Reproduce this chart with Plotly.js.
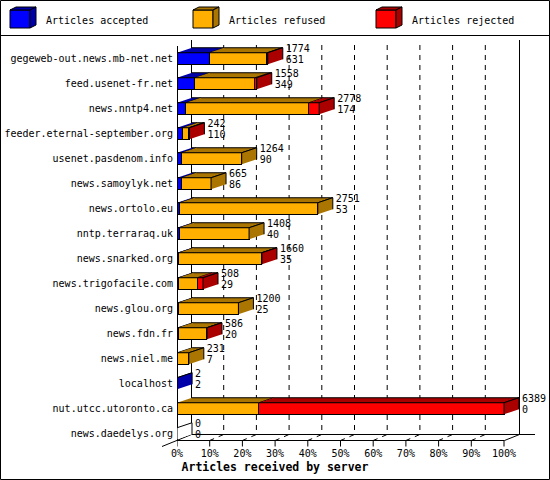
<!DOCTYPE html>
<html><head><meta charset="utf-8">
<script src="https://cdn.plot.ly/plotly-3.0.1.min.js"></script>
<style>html,body{margin:0;padding:0;background:#fff}#chart{width:550px;height:480px}</style>
</head><body><div id="chart"></div>
<script>
// ---------- data ----------
const servers = ["gegeweb-out.news.mb-net.net","feed.usenet-fr.net","news.nntp4.net","feeder.eternal-september.org","usenet.pasdenom.info","news.samoylyk.net","news.ortolo.eu","nntp.terraraq.uk","news.snarked.org","news.trigofacile.com","news.glou.org","news.fdn.fr","news.niel.me","localhost","nut.utcc.utoronto.ca","news.daedelys.org"];
const offered  = [1774,1558,2778,242,1264,665,2751,1408,1660,508,1200,586,231,2,6389,0];
const accepted = [631,349,174,110,90,86,53,40,35,29,25,20,7,2,0,0];
const refused  = [1125,1174,2400,120,1174,579,2698,1368,1615,370,1175,556,224,0,1597,0];
const rejected = [18,35,204,12,0,0,0,0,10,109,0,10,0,0,4792,0];
const xTicks = [0,10,20,30,40,50,60,70,80,90,100];
const xTickLabels = ["0%","10%","20%","30%","40%","50%","60%","70%","80%","90%","100%"];
const seriesNames = ["Articles accepted","Articles refused","Articles rejected"];
const xTitle = "Articles received by server";

// ---------- styling / geometry ----------
const frontColors = ["#0000ff","#ffaf00","#ff0000"];
const shadeColors = ["#0000aa","#aa7500","#aa0000","#ffffff"];
const FONT = "DejaVu Sans Mono";
const W=550,H=480,L=177,R=535,T=40,B=441;
const PXX = 3.27, PXY = 25;
const XMAX = (R-L)/PXX;
const YLO = -0.3, YHI = YLO + (B-T)/PXY;
const DX = 15/PXX, DY = 5/PXY;      // bar depth
const FDX = 14/PXX, FDY = 6/PXY;    // frame depth
const HALF = 0.23;
const LABEL_GAP = 3/PXX;
const px = x => (x-L)/(R-L);
const py = y => (B-y)/(B-T);

const n = servers.length;
const maxOff = Math.max(...offered);
const yPos = servers.map((s,i)=>n-1-i);
const pct = a => a.map(v => v/maxOff*100);
const segs = [pct(accepted), pct(refused), pct(rejected)];

const traces = [];
// front faces
for (let s=0;s<3;s++){
  traces.push({type:'bar',orientation:'h',y:yPos,x:segs[s],width:HALF*2,name:seriesNames[s],
    marker:{color:frontColors[s],line:{color:'#000',width:1}},hoverinfo:'skip',showlegend:false});
}
// top & side faces
const topX=[[],[],[]],topY=[[],[],[]],sideX=[[],[],[],[]],sideY=[[],[],[],[]];
const ends=[];
for (let i=0;i<n;i++){
  const yc=yPos[i], yt=yc+HALF, yb=yc-HALF;
  let x0=0,last=3;
  for (let s=0;s<3;s++){
    const w=segs[s][i];
    if (w>0){
      const x1=x0+w;
      topX[s].push(x0,x1,x1+DX,x0+DX,null);
      topY[s].push(yt,yt,yt+DY,yt+DY,null);
      x0=x1; last=s;
    }
  }
  ends.push(x0);
  sideX[last].push(x0,x0,x0+DX,x0+DX,null);
  sideY[last].push(yb,yt,yt+DY,yb+DY,null);
}
for (let s=0;s<4;s++){
  if (s<3 && topX[s].length) traces.push({type:'scatter',mode:'lines',x:topX[s],y:topY[s],fill:'toself',fillcolor:shadeColors[s],line:{color:'#000',width:1},hoverinfo:'skip',showlegend:false});
  if (sideX[s].length) traces.push({type:'scatter',mode:'lines',x:sideX[s],y:sideY[s],fill:'toself',fillcolor:shadeColors[s],line:{color:'#000',width:1},hoverinfo:'skip',showlegend:false});
}
// value labels
const lx = ends.map(e=>e+DX+LABEL_GAP);
traces.push({type:'scatter',mode:'text',x:lx,y:yPos.map(v=>v+0.36),text:offered.map(String),textposition:'middle right',cliponaxis:false,textfont:{family:FONT,size:10,color:'#000'},hoverinfo:'skip',showlegend:false});
traces.push({type:'scatter',mode:'text',x:lx,y:yPos.map(v=>v-0.06),text:accepted.map(String),textposition:'middle right',cliponaxis:false,textfont:{family:FONT,size:10,color:'#000'},hoverinfo:'skip',showlegend:false});

// frame shapes
const shapes=[];
const ln = (x0,y0,x1,y1,extra)=>Object.assign({type:'line',xref:'paper',yref:'paper',x0:px(x0),y0:py(y0),x1:px(x1),y1:py(y1),line:{color:'#000',width:1},layer:'below'},extra||{});
const fy = B-0.5, by = B-0.5-6;
shapes.push(ln(0.5,0.5,549.5,0.5,{layer:'above'}));
shapes.push(ln(0.5,479.5,549.5,479.5,{layer:'above'}));
shapes.push(ln(0.5,0.5,0.5,479.5,{layer:'above'}));
shapes.push(ln(549.5,0.5,549.5,479.5,{layer:'above'}));
shapes.push(ln(0.5,35.5,549.5,35.5,{layer:'above'}));
shapes.push(ln(177.5,46,177.5,fy));          // front-left edge
shapes.push(ln(191.5,T,191.5,by));           // back-left wall
shapes.push(ln(519.5,T,519.5,by));           // back-right wall
shapes.push(ln(177,fy,504.5,fy));            // front floor
shapes.push(ln(191.5,by,535,by));            // back floor
shapes.push(ln(191.5,by,162,fy+6));          // left floor diagonal
shapes.push(ln(519.5,by,504.5,fy));          // right floor diagonal
// tick marks + dashed gridlines from tick values
xTicks.forEach(t=>{
  shapes.push({type:'line',xref:'x',yref:'paper',layer:'above',x0:t,x1:t,y0:py(fy),y1:py(fy+6),line:{color:'#000',width:1}});
});
xTicks.slice(1,-1).forEach(t=>{
  shapes.push({type:'path',xref:'x',yref:'paper',layer:'below',
    path:`M ${t+FDX} ${py(45)} L ${t+FDX} ${py(by)} L ${t} ${py(fy)}`,
    line:{color:'#000',width:1,dash:'5px,5px'}});
});
// legend cubes
const legX=[10,193,376], legTextX=[44,227,410];
const annotations=[];
for (let s=0;s<3;s++){
  const x0=legX[s], y0=10, w=20, h=18, d=6, e=3;
  const P=(x,y)=>`${px(x)} ${py(y)}`;
  shapes.push({type:'path',xref:'paper',yref:'paper',layer:'above',fillcolor:frontColors[s],line:{color:'#000',width:1},path:`M ${P(x0,y0)} L ${P(x0+w,y0)} L ${P(x0+w,y0+h)} L ${P(x0,y0+h)} Z`});
  shapes.push({type:'path',xref:'paper',yref:'paper',layer:'above',fillcolor:shadeColors[s],line:{color:'#000',width:1},path:`M ${P(x0,y0)} L ${P(x0+d,y0-e)} L ${P(x0+w+d,y0-e)} L ${P(x0+w,y0)} Z`});
  shapes.push({type:'path',xref:'paper',yref:'paper',layer:'above',fillcolor:shadeColors[s],line:{color:'#000',width:1},path:`M ${P(x0+w,y0)} L ${P(x0+w+d,y0-e)} L ${P(x0+w+d,y0+h-e)} L ${P(x0+w,y0+h)} Z`});
  annotations.push({xref:'paper',yref:'paper',x:px(legTextX[s]),y:py(20),xanchor:'left',yanchor:'middle',showarrow:false,text:seriesNames[s],font:{family:FONT,size:10,color:'#000'}});
}

const layout={
  width:W,height:H,margin:{l:L,r:W-R,t:T,b:H-B,pad:0},
  paper_bgcolor:'#fff',plot_bgcolor:'#fff',barmode:'stack',bargap:0,
  showlegend:false,
  title:{text:'<b>'+xTitle+'</b>',xref:'container',x:0.5,xanchor:'center',yref:'container',y:1-467/480,yanchor:'middle',font:{family:FONT,size:11.5,color:'#000'}},
  xaxis:{range:[0,XMAX],tickvals:xTicks,ticktext:xTickLabels,ticks:'',showgrid:false,zeroline:false,showline:false,tickfont:{family:FONT,size:10,color:'#000'},fixedrange:true,ticklabelstandoff:5},
  yaxis:{range:[YLO,YHI],tickvals:yPos,ticktext:servers,ticks:'',showgrid:false,zeroline:false,showline:false,tickfont:{family:FONT,size:10,color:'#000'},fixedrange:true,ticklabelstandoff:3},
  shapes:shapes,annotations:annotations
};
Plotly.newPlot('chart',traces,layout,{staticPlot:true,displayModeBar:false});
</script></body></html>
